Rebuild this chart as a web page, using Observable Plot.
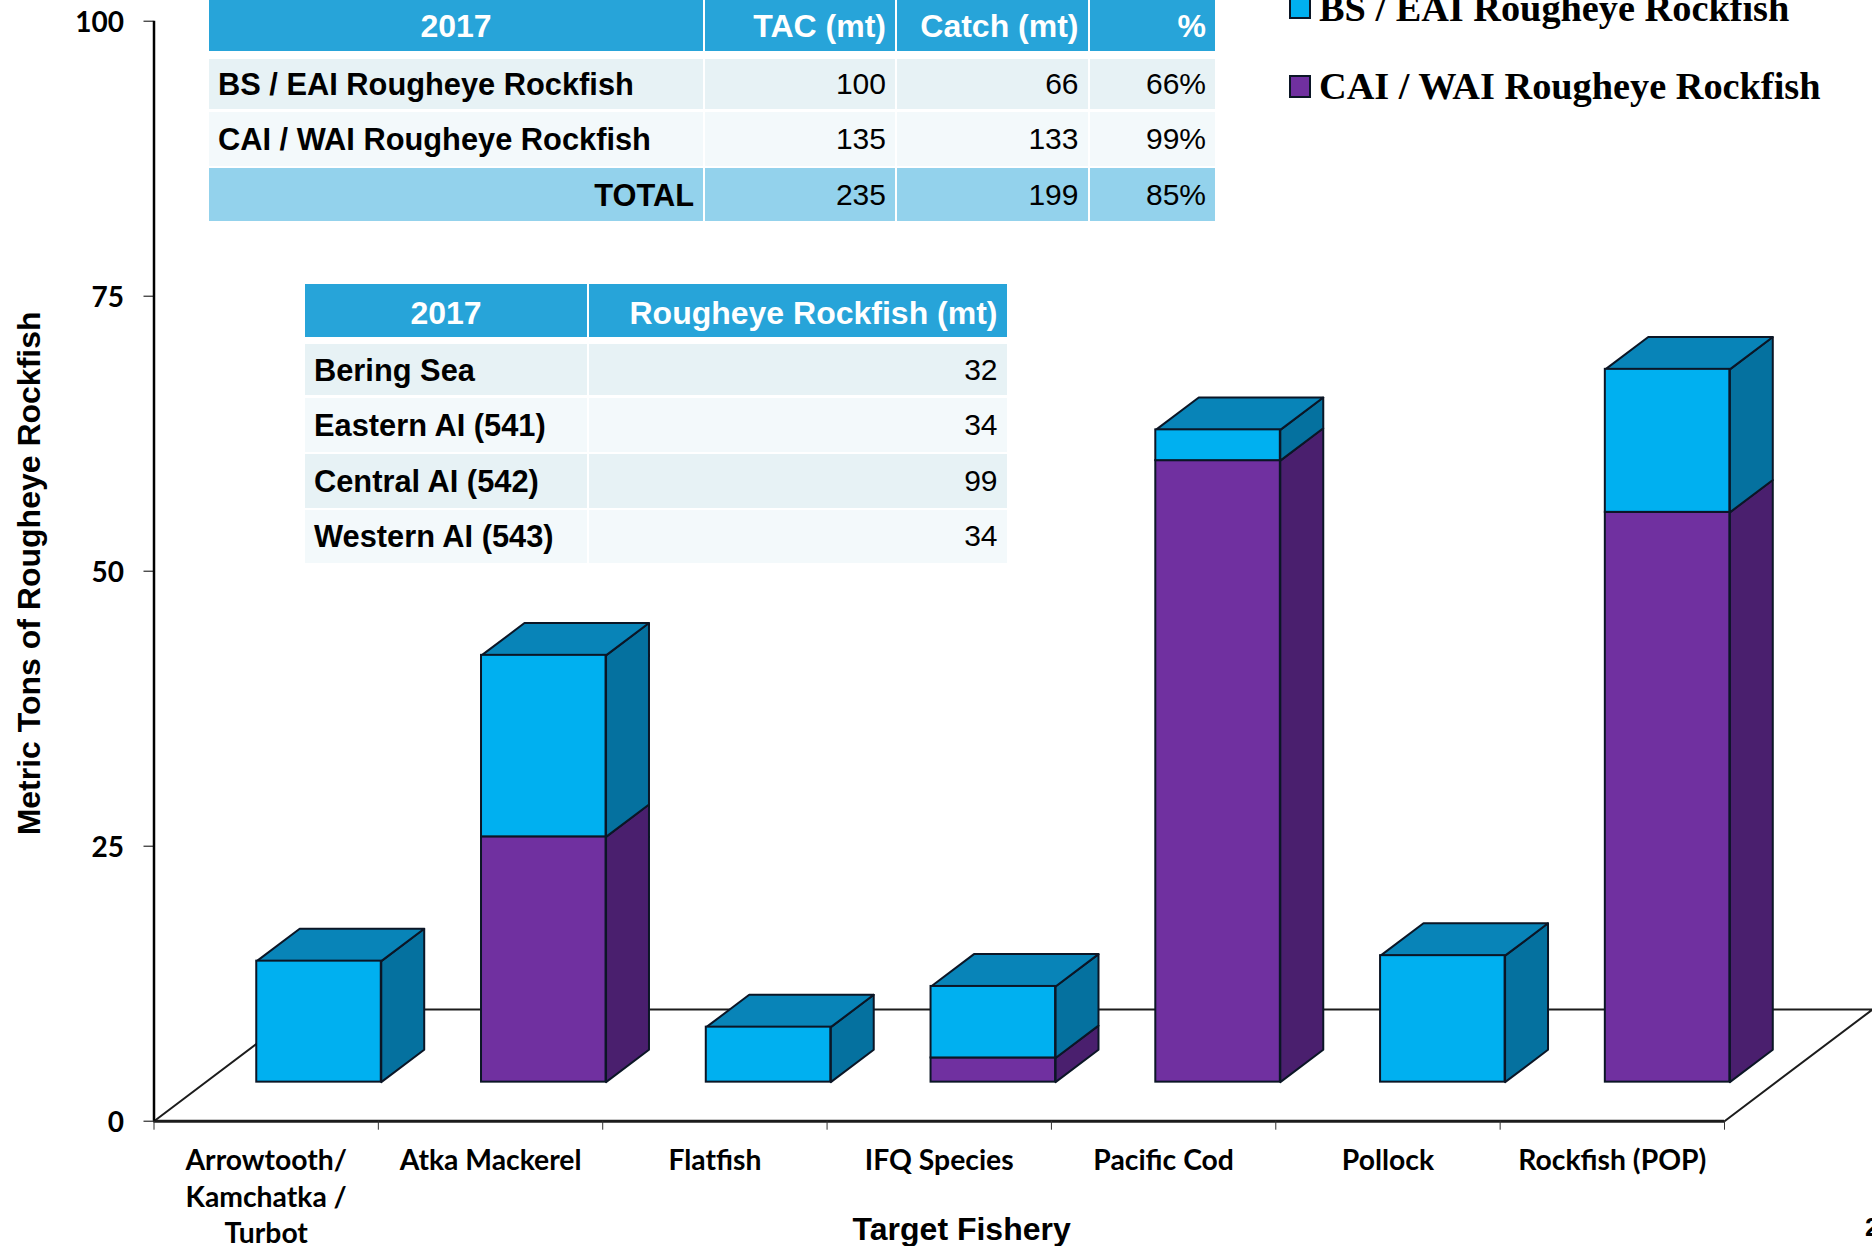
<!DOCTYPE html>
<html><head><meta charset="utf-8">
<style>
html,body{margin:0;padding:0;background:#fff;width:1872px;height:1246px;overflow:hidden}
#wrap{position:relative;width:1872px;height:1246px;overflow:hidden}
#chart svg{display:block;position:absolute;left:0;top:0;overflow:visible}
.cell{position:absolute;box-sizing:border-box;font-family:"Liberation Sans",Arial,sans-serif;font-size:30px;display:flex;align-items:center;white-space:nowrap;color:#000;padding:0 9px}
.hd{color:#fff;font-weight:bold;font-size:32px;padding-top:6px}
.b{font-weight:bold;font-size:30.8px;padding-top:2px}
.legend{position:absolute;font-family:"Liberation Serif",serif;font-weight:bold;font-size:38.3px;line-height:38px;white-space:nowrap;color:#000}
.sw{position:absolute;box-sizing:border-box;border:2.5px solid #0b1626}
</style>
</head><body><div id="wrap"><div id="chart"></div></div>
<script src="https://cdn.jsdelivr.net/npm/d3@7"></script>
<script src="https://cdn.jsdelivr.net/npm/@observablehq/plot@0.6"></script>
<script>
// ---------- data ----------
const categories = ["Arrowtooth/\nKamchatka /\nTurbot","Atka Mackerel","Flatfish","IFQ Species","Pacific Cod","Pollock","Rockfish (POP)"];
const bsEai  = [11, 16.5, 5, 6.5, 2.8, 11.5, 13];
const caiWai = [0, 22.3, 0, 2.2, 56.5, 0, 51.8];
const seriesNames = ["BS / EAI Rougheye Rockfish","CAI / WAI Rougheye Rockfish"];
const yTicks = [0,25,50,75,100];

const table1Header = ["2017","TAC (mt)","Catch (mt)","%"];
const table1Rows = [
  ["BS / EAI Rougheye Rockfish","100","66","66%"],
  ["CAI / WAI Rougheye Rockfish","135","133","99%"],
  ["TOTAL","235","199","85%"]
];
const table2Header = ["2017","Rougheye Rockfish (mt)"];
const table2Rows = [
  ["Bering Sea","32"],
  ["Eastern AI (541)","34"],
  ["Central AI (542)","99"],
  ["Western AI (543)","34"]
];

// ---------- oblique 3-D layout, in scale units ----------
const barLeft = i => 0.458 + i*1.0018, barW = 0.555;
const depthX = 0.1914, depthY = 2.94;      // bar depth
const baseY = 3.55;                        // front edge of bars above the axis zero
const floorX = 0.6595, floorY = 10.15;     // floor depth
const colors = {
  bs:{front:"#00B0F0",side:"#05719F",top:"#0884B8"},
  cai:{front:"#7030A0",side:"#4A1F6E",top:"#5A2585"}
};
const edge = "#0b1626";

const fronts=[], sides=[], tops=[];
categories.forEach((c,i)=>{
  const x1=barLeft(i), x2=x1+barW;
  const segs=[{k:"cai",v:caiWai[i]},{k:"bs",v:bsEai[i]}];
  let y=baseY;
  segs.forEach(s=>{
    if(!s.v) return;
    const y2=y+s.v, id=i+s.k;
    fronts.push({x1,x2,y1:y,y2,k:s.k});
    sides.push(...[[x2,y],[x2,y2],[x2+depthX,y2+depthY],[x2+depthX,y+depthY]].map(([x,yy])=>({id,k:s.k,x,y:yy})));
    y=y2;
  });
  tops.push(...[[x1,y],[x2,y],[x2+depthX,y+depthY],[x1+depthX,y+depthY]].map(([x,yy])=>({id:i,k:"bs",x,y:yy})));
});

const floor=[[0,0],[floorX,floorY],[7+floorX,floorY],[7,0]].map(([x,y])=>({x,y}));

const chart = Plot.plot({
  width:1872, height:1246,
  marginLeft:153.5, marginRight:148, marginTop:20.7, marginBottom:125.3,
  style:{background:"transparent",overflow:"visible",fontFamily:"Lato",fontSize:"28px",fontWeight:"bold",color:"#000"},
  x:{domain:[0,7]},
  y:{domain:[0,100]},
  marks:[
    // floor
    Plot.line(floor,{x:"x",y:"y",stroke:"#1c1c1c",strokeWidth:2,fill:"white"}),
    // axes
    Plot.ruleY([0],{stroke:"#1c1c1c",strokeWidth:3}),
    Plot.ruleX([0],{stroke:"#000",strokeWidth:2.5}),
    Plot.axisY({ticks:yTicks,tickSize:10,tickFormat:()=>"",label:null,stroke:"#000"}),
    Plot.axisY({ticks:yTicks,tickSize:0,tickPadding:30,dy:2,label:null,fontSize:28,fontWeight:"bold"}),
    Plot.axisX({ticks:d3.range(8),tickSize:9,tickFormat:()=>"",label:null,stroke:"#333"}),
    // 3-D bars
    Plot.line(sides.filter(d=>d.k==="cai"),{x:"x",y:"y",z:"id",curve:"linear-closed",fill:colors.cai.side,stroke:edge,strokeWidth:2}),
    Plot.line(sides.filter(d=>d.k==="bs"),{x:"x",y:"y",z:"id",curve:"linear-closed",fill:colors.bs.side,stroke:edge,strokeWidth:2}),
    Plot.line(tops,{x:"x",y:"y",z:"id",curve:"linear-closed",fill:colors.bs.top,stroke:edge,strokeWidth:2}),
    Plot.rect(fronts.filter(d=>d.k==="cai"),{x1:"x1",x2:"x2",y1:"y1",y2:"y2",fill:colors.cai.front,stroke:edge,strokeWidth:2}),
    Plot.rect(fronts.filter(d=>d.k==="bs"),{x1:"x1",x2:"x2",y1:"y1",y2:"y2",fill:colors.bs.front,stroke:edge,strokeWidth:2}),
    // category labels
    Plot.text(categories,{x:(d,i)=>i+0.5,y:()=>0,text:d=>d,lineAnchor:"top",dy:22.5,lineHeight:1.3,fontSize:28.3,fontWeight:"bold",fontFamily:"Lato",fill:"#000"}),
    // axis titles
    Plot.text(["Metric Tons of Rougheye Rockfish"],{x:()=>-0.553,y:()=>49.8,text:d=>d,rotate:-90,fontSize:32,fontWeight:"bold",fontFamily:"Liberation Sans",fill:"#000"}),
    Plot.text(["Target Fishery"],{x:()=>3.6,y:()=>0,text:d=>d,dy:109,fontSize:32,fontWeight:"bold",fontFamily:"Liberation Sans",fill:"#000"})
  ]
});
document.getElementById("chart").append(chart);

// ---------- overlay tables, legend, page number ----------
const wrap=d3.select("#wrap");
const hdrFill="#27A4D9", rowFills=["#E7F2F5","#F3F9FB"], totalFill="#93D2EC";
function cell(x0,x1,y0,y1,txt,bg,cls,align){
  wrap.append("div").attr("class","cell "+cls)
    .style("left",x0+"px").style("top",y0+"px").style("width",(x1-x0)+"px").style("height",(y1-y0)+"px")
    .style("background",bg).style("justify-content",align).text(txt);
}
const t1Cols=[[209,703],[705,895],[897,1087.5],[1089.5,1215]];
const t1Ys=[[-3,50.5],[58.5,109],[111.5,165.5],[168,221]];
table1Header.forEach((t,c)=>cell(t1Cols[c][0],t1Cols[c][1],t1Ys[0][0],t1Ys[0][1],t,hdrFill,"hd",c?"flex-end":"center"));
table1Rows.forEach((r,ri)=>r.forEach((t,c)=>{
  const total=ri===2;
  cell(t1Cols[c][0],t1Cols[c][1],t1Ys[ri+1][0],t1Ys[ri+1][1],t,total?totalFill:rowFills[ri],c?"":"b",c||total?"flex-end":"flex-start");
}));
const t2Cols=[[305,587],[589,1006.5]];
const t2Ys=[[284,336.5],[344,395],[397.5,451.5],[454,507.5],[510,562.5]];
table2Header.forEach((t,c)=>cell(t2Cols[c][0],t2Cols[c][1],t2Ys[0][0],t2Ys[0][1],t,hdrFill,"hd",c?"flex-end":"center"));
table2Rows.forEach((r,ri)=>r.forEach((t,c)=>{
  cell(t2Cols[c][0],t2Cols[c][1],t2Ys[ri+1][0],t2Ys[ri+1][1],t,rowFills[ri%2===0?0:1],c?"":"b",c?"flex-end":"flex-start");
}));
// legend
[["bs",-4,-11],["cai",75,67]].forEach(([k,swTop,txtTop],i)=>{
  wrap.append("div").attr("class","sw").style("left","1289px").style("top",swTop+"px").style("width","22px").style("height","23px").style("background",colors[k].front);
  wrap.append("div").attr("class","legend").style("left","1319px").style("top",txtTop+"px").text(seriesNames[i]);
});
// page number
wrap.append("div").style("position","absolute").style("left","1865px").style("top","1212px")
  .style("font","bold 26px 'Liberation Sans'").style("color","#000").text("2");
</script></body></html>
